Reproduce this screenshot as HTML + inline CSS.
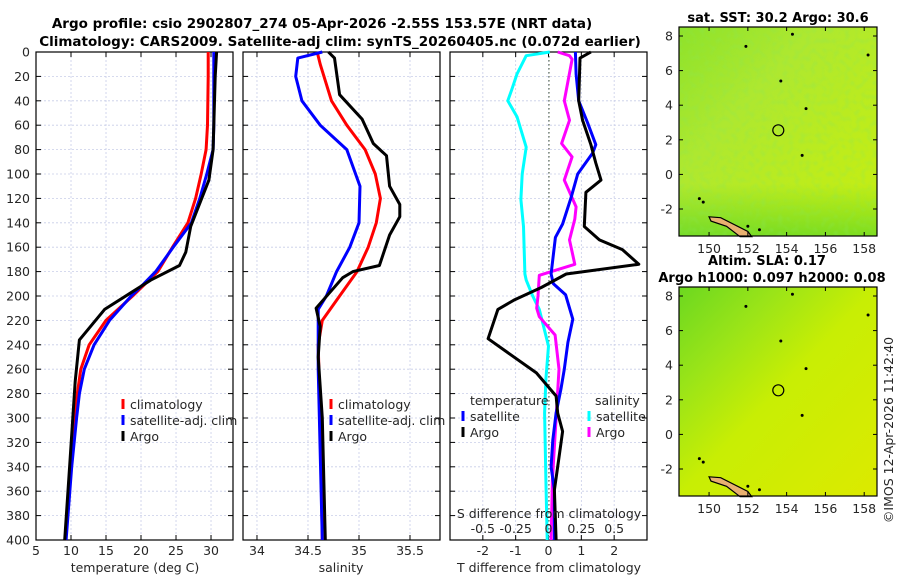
<!DOCTYPE html>
<html><head><meta charset="utf-8"><style>
body{margin:0;background:#fff;width:900px;height:580px;overflow:hidden}
svg{font-family:"DejaVu Sans","Liberation Sans",sans-serif}
</style></head><body>
<svg id="c" width="900" height="580" xmlns="http://www.w3.org/2000/svg">
<defs>
<linearGradient id="g1" x1="0" y1="0" x2="1" y2="1">
<stop offset="0" stop-color="#8ee22a"/><stop offset="0.35" stop-color="#aee830"/><stop offset="0.7" stop-color="#bdec1c"/><stop offset="1" stop-color="#c8ee10"/></linearGradient>
<linearGradient id="g1b" x1="0" y1="0" x2="0" y2="1">
<stop offset="0" stop-color="#4cd22a" stop-opacity="0"/><stop offset="0.75" stop-color="#4cd22a" stop-opacity="0"/><stop offset="1" stop-color="#4cd22a" stop-opacity="0.6"/></linearGradient>
<linearGradient id="g2" x1="0" y1="0" x2="1" y2="1">
<stop offset="0" stop-color="#6cd820"/><stop offset="0.25" stop-color="#9ae418"/><stop offset="0.5" stop-color="#c8ee04"/><stop offset="1" stop-color="#dcea00"/></linearGradient>
<filter id="tex" x="0" y="0" width="1" height="1">
<feTurbulence type="fractalNoise" baseFrequency="0.18" numOctaves="1" seed="3"/>
<feColorMatrix type="matrix" values="0 0 0 0 0.25  0 0 0 0 0.8  0 0 0 0 0.1  0 0 0 1.2 -0.55"/>
</filter>
</defs>
</svg>
<script>
const depthTicks=[0,20,40,60,80,100,120,140,160,180,200,220,240,260,280,300,320,340,360,380,400];
// temperature panel
const tDepth=[0,20,60,80,100,120,140,160,180,190,200,220,240,260,280,300,340,400];
const tClim=[29.6,29.6,29.5,29.3,28.6,27.8,26.7,24.5,22.4,20.6,18.8,15,12.6,11.4,10.9,10.6,10.0,9.2];
const tSatDepth=[0,20,60,80,100,120,140,160,180,190,200,220,240,260,280,300,340,400];
const tSat=[30.4,30.4,30.4,30.3,29.4,28.4,27.2,24.6,22.1,20.4,18.6,15.5,13.3,11.9,11.2,10.8,10.1,9.3];
const tArgoDepth=[0,20,80,105,143,164,175,187,211,236,270,340,400];
const tArgo=[30.8,30.6,30.3,29.7,27.1,26.4,25.5,21.4,14.8,11.2,10.6,9.8,9.1];
const tTicks=[5,10,15,20,25,30];
// salinity panel
const sClimDepth=[0,10,40,60,80,100,120,140,160,180,200,220,240,300,400];
const sClim=[34.59,34.62,34.73,34.88,35.06,35.16,35.21,35.17,35.09,34.98,34.81,34.64,34.6,34.62,34.64];
const sSatDepth=[0,5,20,40,60,80,110,140,160,180,200,211,260,400];
const sSat=[34.64,34.40,34.38,34.44,34.62,34.88,35.01,35.0,34.91,34.78,34.68,34.6,34.6,34.64];
const sArgoDepth=[0,5,35,55,75,85,110,125,135,150,175,180,185,210,225,250,300,400];
const sArgo=[34.70,34.76,34.81,35.03,35.14,35.27,35.30,35.4,35.4,35.3,35.2,34.94,34.84,34.58,34.62,34.6,34.64,34.67];
const sTicks=[34,34.5,35,35.5];
// difference panel
const dTSatDepth=[0,18,40,58,76,83,100,119,141,152,182,190,199,219,238,260,276,296,318,340,359,400];
const dTSat=[0.82,0.84,0.92,1.19,1.44,1.34,0.89,0.69,0.43,0.21,0.08,0.15,0.52,0.74,0.59,0.48,0.38,0.23,0.13,0.08,0.18,0.18];
const dTArgoDepth=[0,5,40,56,76,91,105,115,143,154,162,174,182,193,203,211,235,263,282,296,311,334,359,400];
const dTArgo=[1.29,0.96,0.92,1.04,1.29,1.44,1.6,1.14,1.09,1.55,2.25,2.75,0.54,-0.22,-1.03,-1.54,-1.84,-0.37,0.23,0.28,0.43,0.31,0.18,0.23];
const dSSatDepth=[0,3,18,31,40,53,78,100,121,143,182,187,200,211,241,268,296,351,400];
const dSSat=[0.01,-0.17,-0.24,-0.28,-0.31,-0.24,-0.17,-0.2,-0.21,-0.19,-0.18,-0.17,-0.12,-0.07,0,-0.02,-0.03,-0.02,-0.01];
const dSArgoDepth=[0,3,6,40,56,75,86,105,127,137,154,174,183,200,210,217,232,260,296,351,400];
const dSArgo=[0.07,0.16,0.18,0.12,0.16,0.1,0.18,0.12,0.21,0.2,0.16,0.2,-0.07,-0.08,-0.09,-0.07,0.05,0.08,0.06,0.03,0.02];
const dTTicks=[-2,-1,0,1,2];
const dSTicks=[-0.5,-0.25,0,0.25,0.5];
const dSTickLabels=["-0.5","-0.25","0","0.25","0.5"];
// maps
const lonTicks=[150,152,154,156,158];
const latTicks=[-2,0,2,4,6,8];
const argoLon=[153.57];
const argoLat=[2.55];

const NS="http://www.w3.org/2000/svg";
const svg=document.getElementById('c');
function el(tag,attrs,parent,txt){const e=document.createElementNS(NS,tag);for(const k in attrs)e.setAttribute(k,attrs[k]);if(txt!==undefined)e.textContent=txt;(parent||svg).appendChild(e);return e;}
const Y0=52,Y1=540;
const yD=d=>Y0+(d/400)*(Y1-Y0);

function panel(name,x0,x1,xmin,xmax,ticks,labels,showY){
  const g=el('g',{});
  
  
  const xs=v=>x0+(v-xmin)/(xmax-xmin)*(x1-x0);
  depthTicks.forEach(d=>{ if(d>0&&d<400){const l=el('line',{x1:x0,x2:x1,y1:yD(d),y2:yD(d),stroke:'#c8cde8','stroke-width':0.8,'stroke-dasharray':'2,2'},g);}
    el('line',{x1:x0,x2:x0+5,y1:yD(d),y2:yD(d),stroke:'#000'},g);el('line',{x1:x1-5,x2:x1,y1:yD(d),y2:yD(d),stroke:'#000'},g);
    if(showY){const t=el('text',{x:x0-6,y:yD(d)+4.5,'text-anchor':'end','font-size':12.5,fill:'#262626'},g,String(d));}
  });
  ticks.forEach((v,i)=>{const x=xs(v);
    el('line',{x1:x,x2:x,y1:Y0,y2:Y1,stroke:'#c8cde8','stroke-width':0.8,'stroke-dasharray':'2,2'},g);
    el('line',{x1:x,x2:x,y1:Y1,y2:Y1-5,stroke:'#000'},g);el('line',{x1:x,x2:x,y1:Y0,y2:Y0+5,stroke:'#000'},g);
    const t=el('text',{x:x,y:555,'text-anchor':'middle','font-size':12.5,fill:'#262626'},g,labels[i]);
    
  });
  const r=el('rect',{x:x0,y:Y0,width:x1-x0,height:Y1-Y0,fill:'none',stroke:'#000','stroke-width':1.2},g);
  
  return {g,xs};
}
function line(p,xs,vals,depths,color,name){
  const pts=vals.map((v,i)=>xs(v).toFixed(1)+','+yD(depths[i]).toFixed(1)).join(' ');
  const l=el('polyline',{points:pts,fill:'none',stroke:color,'stroke-width':3,'stroke-linejoin':'round'},p);
  
  
}
function txt(x,y,s,opts,name){const t=el('text',Object.assign({x:x,y:y,'font-size':12.5,fill:'#262626'},opts||{}),null,s);return t;}
function legItem(x,y,color,label,name){
  const g=el('g',{});
  el('line',{x1:x,x2:x,y1:y-10,y2:y,stroke:color,'stroke-width':3},g);
  el('text',{x:x+7,y:y,'font-size':12.5,fill:'#262626'},g,label);
}

// Panel 1
const p1=panel('temperature-panel',36,233,5,33.14,tTicks,tTicks.map(String),true);
line(p1.g,p1.xs,tClim,tDepth,'#f00','temp-climatology-line');
line(p1.g,p1.xs,tSat,tSatDepth,'#00f','temp-satellite-line');
line(p1.g,p1.xs,tArgo,tArgoDepth,'#000','temp-argo-line');
legItem(123,409,'#f00','climatology','legend-climatology');
legItem(123,425,'#00f','satellite-adj. clim','legend-satellite');
legItem(123,441,'#000','Argo','legend-argo');
txt(135,572,'temperature (deg C)',{'text-anchor':'middle'},'x-axis-title-temperature');

// Panel 2
const p2=panel('salinity-panel',243,440,33.863,35.794,sTicks,sTicks.map(String),false);
line(p2.g,p2.xs,sClim,sClimDepth,'#f00','sal-climatology-line');
line(p2.g,p2.xs,sSat,sSatDepth,'#00f','sal-satellite-line');
line(p2.g,p2.xs,sArgo,sArgoDepth,'#000','sal-argo-line');
legItem(331,409,'#f00','climatology','legend-climatology-2');
legItem(331,425,'#00f','satellite-adj. clim','legend-satellite-2');
legItem(331,441,'#000','Argo','legend-argo-2');
txt(341,572,'salinity',{'text-anchor':'middle'},'x-axis-title-salinity');

// Panel 3
const p3=panel('difference-panel',450,647,-3,3,dTTicks,dTTicks.map(String),false);
const xsS=v=>450+(v+0.75)/1.5*197;
el('line',{x1:549,x2:549,y1:Y0,y2:Y1,stroke:'#445533','stroke-width':1,'stroke-dasharray':'1.5,2.5'},p3.g);
line(p3.g,xsS,dSSat,dSSatDepth,'#0ff','sdiff-satellite-line');
line(p3.g,xsS,dSArgo,dSArgoDepth,'#f0f','sdiff-argo-line');
line(p3.g,p3.xs,dTSat,dTSatDepth,'#00f','tdiff-satellite-line');
line(p3.g,p3.xs,dTArgo,dTArgoDepth,'#000','tdiff-argo-line');
txt(470,405,'temperature',{},'legend-title-temperature');
txt(595,405,'salinity',{},'legend-title-salinity');
legItem(463,421,'#00f','satellite','legend-t-satellite');
legItem(463,437,'#000','Argo','legend-t-argo');
legItem(589,421,'#0ff','satellite','legend-s-satellite');
legItem(589,437,'#f0f','Argo','legend-s-argo');
txt(549,518,'S difference from climatology',{'text-anchor':'middle'},'s-axis-title');
dSTicks.forEach((v,i)=>txt(xsS(v),533,dSTickLabels[i],{'text-anchor':'middle'},'s-tick-label'));
txt(549,572,'T difference from climatology',{'text-anchor':'middle'},'x-axis-title-tdiff');

// Titles
txt(322,28,'Argo profile: csio 2902807_274 05-Apr-2026 -2.55S 153.57E (NRT data)',{'text-anchor':'middle','font-weight':'bold','font-size':13.5,fill:'#000'},'title-line-1');
txt(340,46,'Climatology: CARS2009. Satellite-adj clim: synTS_20260405.nc (0.072d earlier)',{'text-anchor':'middle','font-weight':'bold','font-size':13.5,fill:'#000'},'title-line-2');

// Maps
function map(name,y0,grad,extra,texture){
  const x0=679,x1=877,y1=y0+209;
  const lonMin=148.45,lonMax=158.66,latMax=8.52,latMin=-3.56;
  const xs=v=>x0+(v-lonMin)/(lonMax-lonMin)*(x1-x0);
  const ys=v=>y0+(latMax-v)/(latMax-latMin)*(y1-y0);
  const g=el('g',{});
  el('rect',{x:x0,y:y0,width:x1-x0,height:y1-y0,fill:grad},g);
  if(extra)el('rect',{x:x0,y:y0,width:x1-x0,height:y1-y0,fill:extra},g);
  if(texture)el('rect',{x:x0,y:y0,width:x1-x0,height:y1-y0,filter:'url(#tex)',opacity:0.7},g);
  // island
  const isl=el('path',{d:`M${xs(150)},${ys(-2.45)} L${xs(150.6)},${ys(-2.5)} L${xs(152)},${ys(-3.3)} L${xs(152.2)},${ys(-3.6)} L${xs(151.6)},${ys(-3.6)} L${xs(150.9)},${ys(-3)} L${xs(150.1)},${ys(-2.7)} Z`,fill:'#e8b070',stroke:'#000','stroke-width':1.2},g);
  
  [[149.5,-1.4],[149.7,-1.6],[151.9,7.4],[158.2,6.9],[153.7,5.4],[154.3,8.1],[155,3.8],[154.8,1.1],[152,-3.0],[152.6,-3.2]].forEach(p=>el('circle',{cx:xs(p[0]),cy:ys(p[1]),r:1.5,fill:'#000'},g));
  argoLon.forEach((lo,i)=>{const c=el('circle',{cx:xs(lo),cy:ys(argoLat[i]),r:5.5,fill:'none',stroke:'#000','stroke-width':1.2},g);});
  lonTicks.forEach(v=>{el('line',{x1:xs(v),x2:xs(v),y1:y1,y2:y1-4,stroke:'#000'},g);el('line',{x1:xs(v),x2:xs(v),y1:y0,y2:y0+4,stroke:'#000'},g);
    const t=el('text',{x:xs(v),y:y1+17,'text-anchor':'middle','font-size':12.5,fill:'#262626'},g,String(v));});
  latTicks.forEach(v=>{el('line',{x1:x0,x2:x0+4,y1:ys(v),y2:ys(v),stroke:'#000'},g);el('line',{x1:x1,x2:x1-4,y1:ys(v),y2:ys(v),stroke:'#000'},g);
    const t=el('text',{x:x0-6,y:ys(v)+4.5,'text-anchor':'end','font-size':12.5,fill:'#262626'},g,String(v));});
  el('rect',{x:x0,y:y0,width:x1-x0,height:y1-y0,fill:'none',stroke:'#000','stroke-width':1.2},g);
}
map('sst-map',27,'url(#g1)','url(#g1b)',true);
map('sla-map',287,'url(#g2)',null,false);
txt(778,22,'sat. SST: 30.2 Argo: 30.6',{'text-anchor':'middle','font-weight':'bold','font-size':13,fill:'#000'},'sst-map-title');
txt(767,265,'Altim. SLA: 0.17',{'text-anchor':'middle','font-weight':'bold','font-size':13,fill:'#000'},'sla-map-title');
txt(772,282,'Argo h1000: 0.097 h2000: 0.08',{'text-anchor':'middle','font-weight':'bold','font-size':13,fill:'#000'},'sla-map-subtitle');
txt(0,0,'©IMOS 12-Apr-2026 11:42:40',{'text-anchor':'middle','transform':'translate(893,430) rotate(-90)'},'copyright-timestamp');
</script>
</body></html>
